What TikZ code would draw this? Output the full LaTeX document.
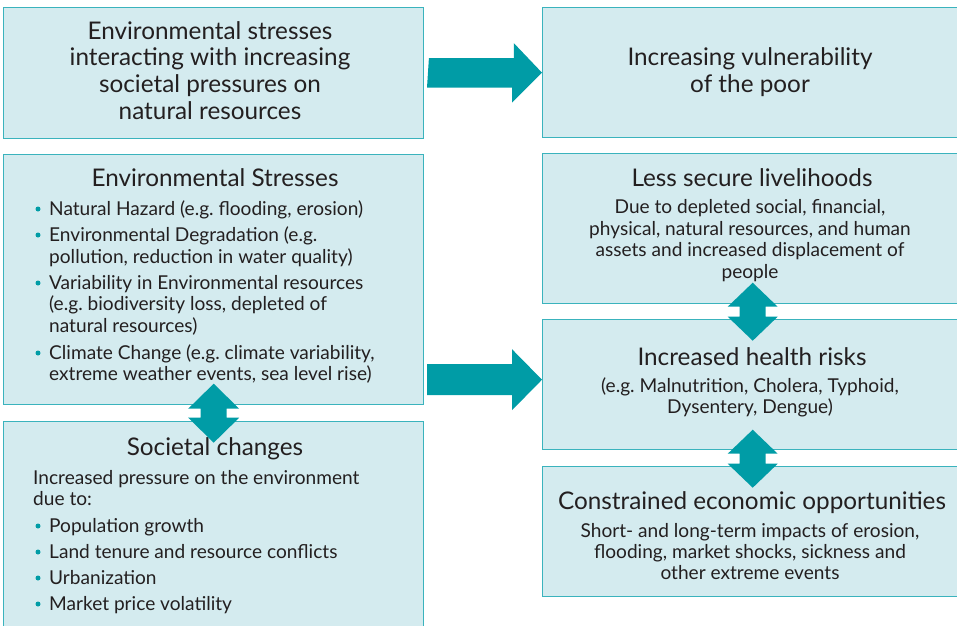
\documentclass[tikz,border=0pt]{standalone}
\usepackage{fontspec}
\setmainfont{Lato}
\frenchspacing
\usetikzlibrary{calc}
\definecolor{boxfill}{HTML}{D4EBEF}
\definecolor{boxline}{HTML}{3AB3BD}
\definecolor{arrowteal}{HTML}{009CA6}
\definecolor{txt}{HTML}{231F20}
\tikzset{
  panel/.style={draw=boxline, line width=1.4pt, fill=boxfill, inner sep=0pt, anchor=north west},
  ttl/.style={font=\fontsize{24.3}{27}\selectfont, text=txt, inner sep=0pt, anchor=base},
  bodyc/.style={font=\fontsize{19.1}{21}\selectfont, text=txt, inner sep=0pt, anchor=base},
  bodyl/.style={font=\fontsize{19.1}{21}\selectfont, text=txt, inner sep=0pt, anchor=base west},
  dot/.style={circle, fill=arrowteal, inner sep=0pt, minimum size=5pt},
  blockarrow/.style={fill=arrowteal, draw=none}
}
\begin{document}
\begin{tikzpicture}[x=1pt, y=-1pt]
\useasboundingbox (0,0) rectangle (957,625);
\clip (0,0) rectangle (957,625);
% panels
\node[panel, minimum width=420pt, minimum height=131pt] (b1) at (3,7) {};
\node[panel, minimum width=420pt, minimum height=250pt] (b2) at (3,154) {};
\node[panel, minimum width=420pt, minimum height=220pt] (b3) at (3,421) {};
\node[panel, minimum width=420pt, minimum height=130pt] (r1) at (542,7) {};
\node[panel, minimum width=420pt, minimum height=150pt] (r2) at (542,153) {};
\node[panel, minimum width=420pt, minimum height=130pt] (r3) at (542,319) {};
\node[panel, minimum width=420pt, minimum height=130pt] (r4) at (542,466) {};

% box 1 text
\node[ttl] (t1a) at (210,39) {Environmental stresses};
\node[ttl] (t1b) at (210,65.7) {interacting with increasing};
\node[ttl] (t1c) at (210,92.4) {societal pressures on};
\node[ttl] (t1d) at (210,119) {natural resources};

% box 2 text
\node[ttl] (t2) at (215,186.5) {Environmental Stresses};
\node[dot] (d21) at (38,209) {};
\node[bodyl] (s1) at (49,215) {Natural Hazard (e.g. flooding, erosion)};
\node[dot] (d22) at (38,235) {};
\node[bodyl] (s2) at (49,241) {Environmental Degradation (e.g.};
\node[bodyl] (s2b) at (49,263) {pollution, reduction in water quality)};
\node[dot] (d23) at (38,283) {};
\node[bodyl] (s3) at (49,289) {Variability in Environmental resources};
\node[bodyl] (s3b) at (49,310) {(e.g. biodiversity loss, depleted of};
\node[bodyl] (s3c) at (49,332) {natural resources)};
\node[dot] (d24) at (38,353) {};
\node[bodyl] (s4) at (49,359) {Climate Change (e.g. climate variability,};
\node[bodyl] (s4b) at (49,380) {extreme weather events, sea level rise)};

% box 3 text
\node[ttl] (t3) at (215,455) {Societal changes};
\node[bodyl] (p1) at (33,484) {Increased pressure on the environment};
\node[bodyl] (p2) at (33,505) {due to:};
\node[dot] (d31) at (38,526) {};
\node[bodyl] (q1) at (49,532) {Population growth};
\node[dot] (d32) at (38,552) {};
\node[bodyl] (q2) at (49,558) {Land tenure and resource conflicts};
\node[dot] (d33) at (38,578) {};
\node[bodyl] (q3) at (49,584) {Urbanization};
\node[dot] (d34) at (38,604) {};
\node[bodyl] (q4) at (49,610) {Market price volatility};

% right texts
\node[ttl] (u1a) at (750,65) {Increasing vulnerability};
\node[ttl] (u1b) at (750,92) {of the poor};

\node[ttl] (u2) at (752,186) {Less secure livelihoods};
\node[bodyc] (u2a) at (750,213) {Due to depleted social, financial,};
\node[bodyc] (u2b) at (750,235) {physical, natural resources, and human};
\node[bodyc] (u2c) at (750,256) {assets and increased displacement of};
\node[bodyc] (u2d) at (750,278) {people};

\node[ttl] (u3) at (752,365) {Increased health risks};
\node[bodyc] (u3a) at (750,392) {(e.g. Malnutrition, Cholera, Typhoid,};
\node[bodyc] (u3b) at (750,413) {Dysentery, Dengue)};

\node[ttl] (u4) at (752,509) {Constrained economic opportunities};
\node[bodyc] (u4a) at (750,537) {Short- and long-term impacts of erosion,};
\node[bodyc] (u4b) at (750,558) {flooding, market shocks, sickness and};
\node[bodyc] (u4c) at (750,579) {other extreme events};

% single block arrows
\fill[blockarrow] ($(b1.east)+(4.5,-15)$) -- ++(85,0) -- ++(0,-15) -- (r1.west) -- ++(-30,30) -- ++(0,-15) -- ++(-85,0) -- cycle;
\coordinate (a2tip) at ($(r3.west)+(0,-5)$);
\fill[blockarrow] ($(a2tip)+(-115,-15.5)$) -- ++(85,0) -- ++(0,-15) -- (a2tip) -- ++(-30,30.5) -- ++(0,-15) -- ++(-85,0) -- cycle;

% double block arrows
\coordinate (m1) at ($(b2.south)!0.5!(b3.north)$);
\fill[blockarrow] ($(m1)+(0,-29.5)$) -- ++(25.5,25) -- ++(-12.5,0) -- ++(0,9) -- ++(12.5,0) -- ++(-25.5,25) -- ++(-25.5,-25) -- ++(12.5,0) -- ++(0,-9) -- ++(-12.5,0) -- cycle;
\coordinate (m2) at ($(r2.south)!0.5!(r3.north)$);
\fill[blockarrow] ($(m2)+(0,-29)$) -- ++(25,24) -- ++(-12,0) -- ++(0,10) -- ++(12,0) -- ++(-25,24) -- ++(-25,-24) -- ++(12,0) -- ++(0,-10) -- ++(-12,0) -- cycle;
\coordinate (m3) at ($(r3.south)!0.5!(r4.north)$);
\fill[blockarrow] ($(m3)+(0,-28.5)$) -- ++(25,24) -- ++(-12,0) -- ++(0,10) -- ++(12,0) -- ++(-25,24) -- ++(-25,-24) -- ++(12,0) -- ++(0,-10) -- ++(-12,0) -- cycle;
\end{tikzpicture}
\end{document}
